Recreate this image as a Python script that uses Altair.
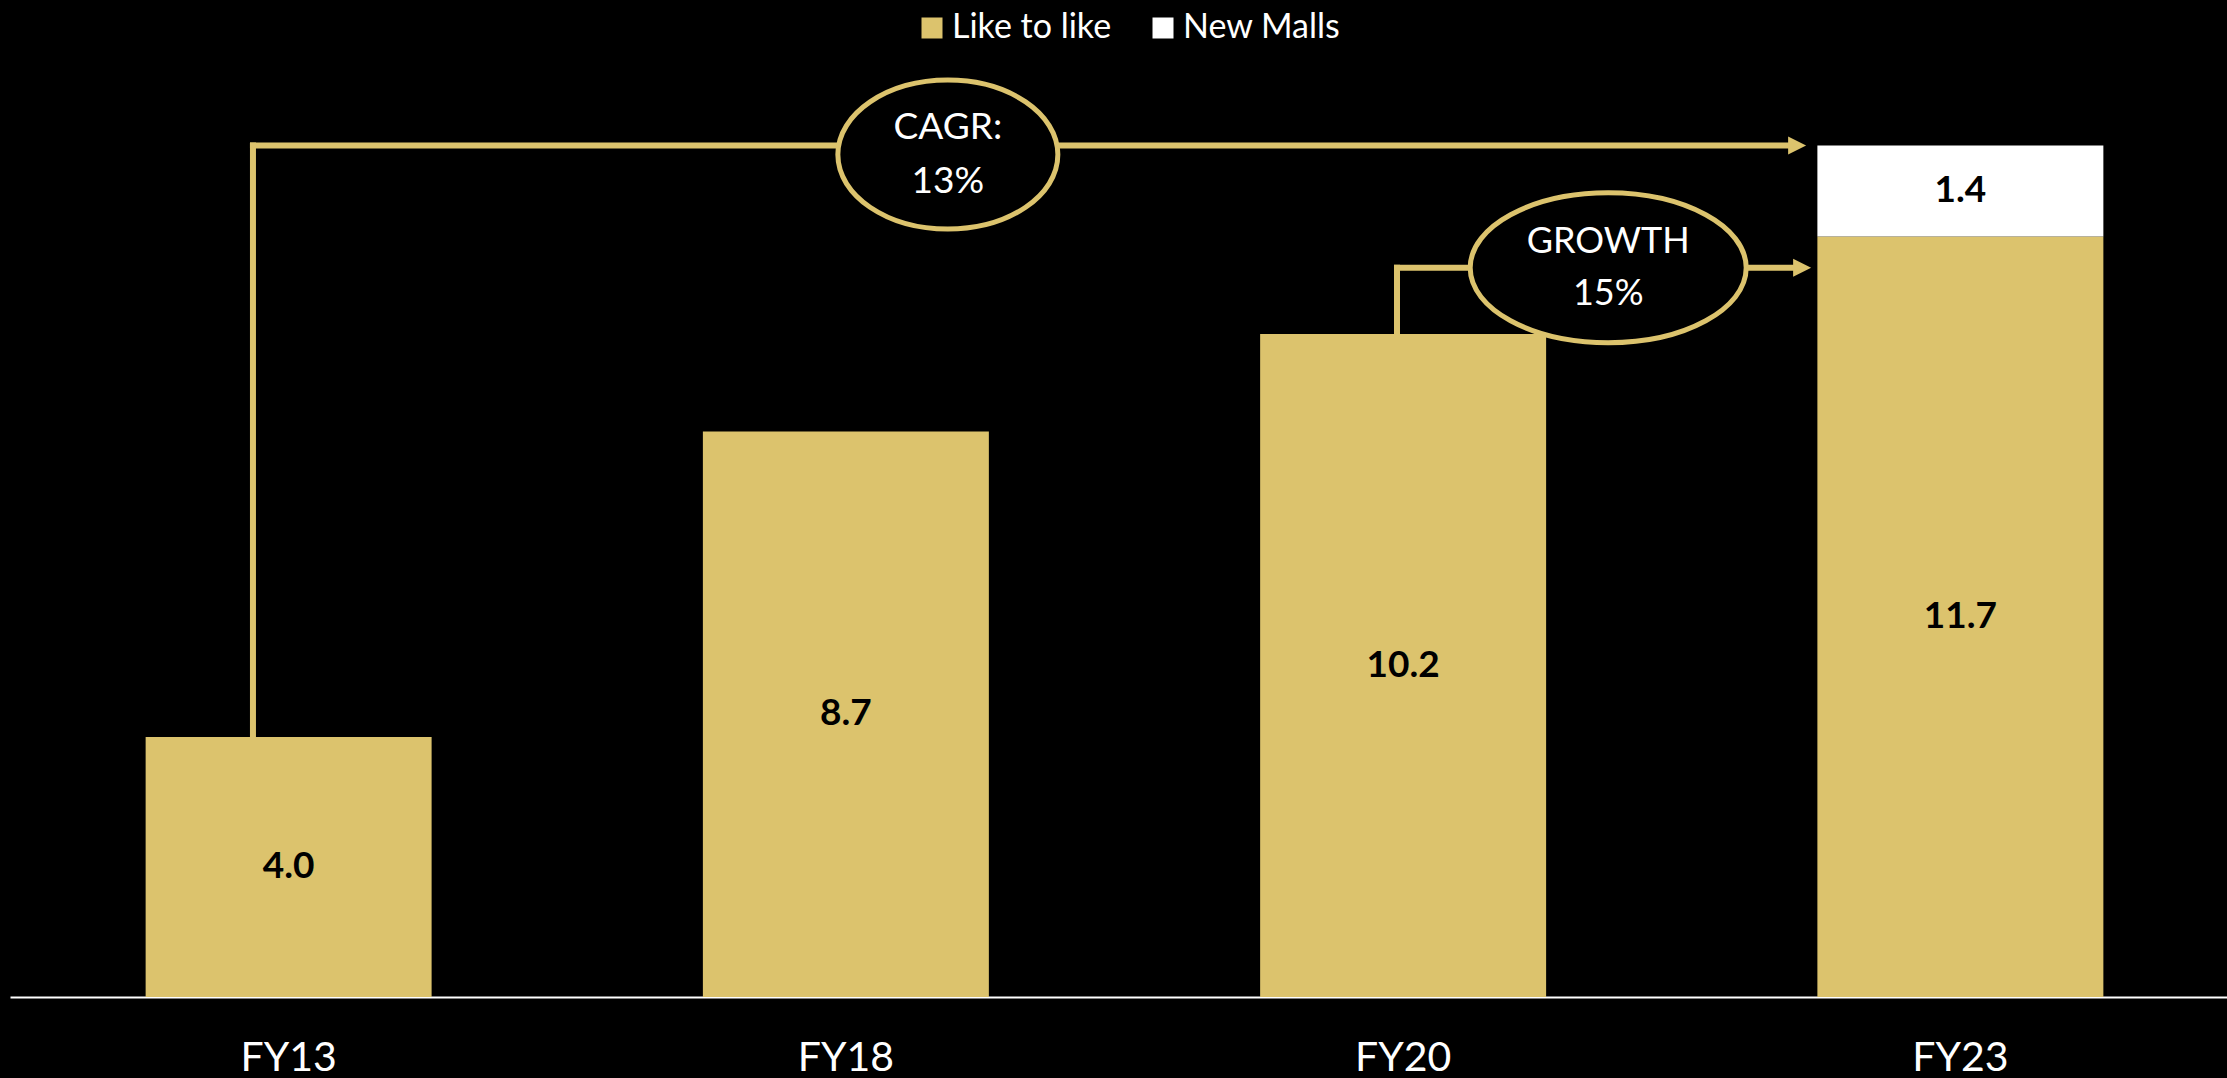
import altair as alt
import pandas as pd

# ---- data ----
years = ["FY13", "FY18", "FY20", "FY23"]
like_to_like = [4.0, 8.7, 10.2, 11.7]
new_malls = [0.0, 0.0, 0.0, 1.4]
series = ["Like to like", "New Malls"]
series_colors = ["#DCC36D", "#FFFFFF"]

cagr_label = "CAGR:\n13%"
growth_label = "GROWTH\n15%"
growth_level = 11.22  # level of the growth connector line

# annotation anchor positions in category-index units (0 = FY13 centre, 3 = FY23 centre)
cagr_x_start = -0.064
cagr_x_end = 2.691
cagr_arrow_x = 2.707
cagr_bubble_x = 1.183
growth_x_start = 1.989
growth_x_end = 2.700
growth_arrow_x = 2.716
growth_bubble_x = 2.368

GOLD = "#DCC36D"
FONT = "Lato"
RANGE = [10, 2239]

# ---- tables ----
rows = []
for yr, a, b in zip(years, like_to_like, new_malls):
    rows.append({"year": yr, "series": series[0], "value": a, "start": 0.0, "end": a})
    if b > 0:
        rows.append({"year": yr, "series": series[1], "value": b, "start": a, "end": a + b})
bars_df = pd.DataFrame(rows)
bars_df["mid"] = (bars_df["start"] + bars_df["end"]) / 2
bars_df["label"] = bars_df["value"].map(lambda v: f"{v:.1f}")

cagr_top = like_to_like[-1] + new_malls[-1]

x_scale = alt.Scale(domain=years, range=RANGE, paddingInner=0.4868, paddingOuter=0.2434)
xa_scale = alt.Scale(domain=[-0.5, 3.5], range=RANGE, nice=False, zero=False)
y_scale = alt.Scale(domain=[0, 15.34], nice=False, zero=True)

X = alt.X("year:N", scale=x_scale,
          axis=alt.Axis(title=None, labelFont=FONT, labelFontSize=41, labelColor="white",
                        domainColor="white", domainWidth=2, ticks=False, labelPadding=41,
                        labelAngle=0, grid=False))

bars = alt.Chart(bars_df).mark_bar().encode(
    x=X,
    y=alt.Y("end:Q", scale=y_scale, axis=None),
    y2="start:Q",
    color=alt.Color("series:N", scale=alt.Scale(domain=series, range=series_colors),
                    legend=alt.Legend(title=None, orient="none", legendX=915, legendY=11,
                                      direction="horizontal", symbolType="square",
                                      symbolSize=441, symbolStrokeWidth=0, symbolOpacity=1,
                                      labelColor="white", labelFont=FONT, labelFontSize=34,
                                      labelOffset=3, columnPadding=34, labelLimit=400,
                                      padding=0)),
)

labels = alt.Chart(bars_df).mark_text(font=FONT, fontSize=37, fontWeight="bold",
                                      color="black", baseline="middle", align="center").encode(
    x=alt.X("year:N", scale=x_scale, axis=None),
    y=alt.Y("mid:Q", scale=y_scale, axis=None),
    text="label:N",
)

def ellipse(r):
    return f"M -1 0 A 1 {r} 0 1 1 1 0 A 1 {r} 0 1 1 -1 0 Z"

arrow_path = "M -1 -1 L 1 0 L -1 1 Z"

def XA(field):
    return alt.X(field, type="quantitative", scale=xa_scale, axis=None)

def YA(field):
    return alt.Y(field, type="quantitative", scale=y_scale, axis=None)

def connector(x0, x1, ax, bx, y_from, y_line, label, size, ratio, fs, lh, dy):
    v = alt.Chart(pd.DataFrame({"x": [x0], "y": [y_from], "y2": [y_line]})).mark_rule(
        color=GOLD, strokeWidth=6, strokeCap="square").encode(
        x=XA("x"), y=YA("y"), y2="y2:Q")
    h = alt.Chart(pd.DataFrame({"x": [x0], "x2": [x1], "y": [y_line]})).mark_rule(
        color=GOLD, strokeWidth=6, strokeCap="square").encode(
        x=XA("x"), x2="x2:Q", y=YA("y"))
    arr = alt.Chart(pd.DataFrame({"x": [ax], "y": [y_line]})).mark_point(
        shape=arrow_path, size=324, filled=True, color=GOLD, opacity=1).encode(
        x=XA("x"), y=YA("y"))
    ell = alt.Chart(pd.DataFrame({"x": [bx], "y": [y_line]})).mark_point(
        shape=ellipse(ratio), size=size, fill="black", stroke=GOLD, strokeWidth=5,
        fillOpacity=1, strokeOpacity=1, opacity=1, yOffset=dy).encode(
        x=XA("x"), y=YA("y"))
    txt = alt.Chart(pd.DataFrame({"x": [bx], "y": [y_line], "t": [label]})).mark_text(
        font=FONT, fontSize=fs, color="white", lineBreak="\n", lineHeight=lh,
        baseline="middle", align="center", yOffset=dy - lh / 2).encode(
        x=XA("x"), y=YA("y"), text="t:N")
    return [v, h, arr, ell, txt]

cagr_layers = connector(cagr_x_start, cagr_x_end, cagr_arrow_x, cagr_bubble_x,
                        like_to_like[0], cagr_top, cagr_label, 48400, 0.677, 37, 54, 9)
growth_layers = connector(growth_x_start, growth_x_end, growth_arrow_x, growth_bubble_x,
                          like_to_like[2], growth_level, growth_label, 76176, 0.543, 36, 52, 0)

chart = alt.layer(
    *cagr_layers, *growth_layers, bars, labels,
).resolve_scale(x="independent").properties(
    width=2227, height=997,
    autosize=alt.AutoSizeParams(type="none"),
    padding={"left": 0, "top": 0, "right": 0, "bottom": 81},
    background="black",
).configure_view(stroke=None)

chart.save("out.html", embed_options={"renderer": "svg", "actions": False})
